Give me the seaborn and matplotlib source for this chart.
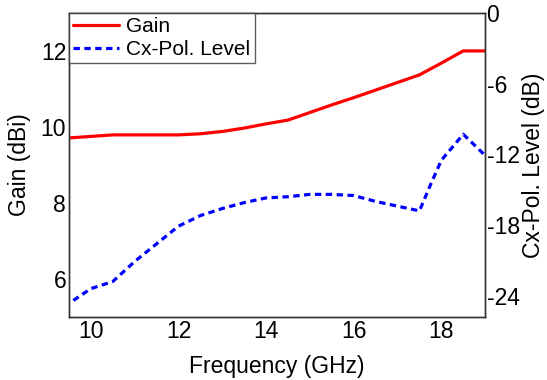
import matplotlib
matplotlib.use("Agg")
import matplotlib.pyplot as plt
import seaborn as sns
import pandas as pd

freq = [9.5, 10.0, 10.5, 11.0, 11.5, 12.0, 12.5, 13.0, 13.5, 14.0, 14.5, 15.0,
        15.5, 16.0, 16.5, 17.0, 17.5, 18.0, 18.5, 19.0]
gain = [9.71, 9.75, 9.79, 9.79, 9.79, 9.79, 9.82, 9.88, 9.97, 10.08, 10.18, 10.38,
        10.58, 10.77, 10.97, 11.17, 11.37, 11.68, 12.0, 12.0]

freq_x = [9.6, 10.0, 10.5, 11.0, 11.5, 12.0, 12.5, 13.0, 13.5, 14.0, 14.5, 15.0,
          15.5, 16.0, 16.5, 17.0, 17.5, 17.75, 18.0, 18.5, 19.0]
xpol = [-24.4, -23.4, -22.8, -21.1, -19.6, -18.1, -17.2, -16.6, -16.1, -15.7, -15.6,
        -15.4, -15.4, -15.5, -16.0, -16.4, -16.8, -14.6, -12.5, -10.3, -12.1]

x_ticks = [10, 12, 14, 16, 18]
gain_ticks = [6, 8, 10, 12]
xpol_ticks = [0, -6, -12, -18, -24]

sns.set_style("white")
plt.rcParams['font.family'] = ['Liberation Sans', 'DejaVu Sans']
plt.rcParams['axes.unicode_minus'] = False
plt.rcParams['text.color'] = 'black'
plt.rcParams['axes.labelcolor'] = 'black'
plt.rcParams['xtick.color'] = 'black'
plt.rcParams['ytick.color'] = 'black'

df_g = pd.DataFrame({"Frequency": freq, "Gain": gain})
df_x = pd.DataFrame({"Frequency": freq_x, "XPol": xpol})

fig, ax = plt.subplots(figsize=(5.47, 3.80), dpi=100)
fig.subplots_adjust(left=0.126, right=0.887, top=0.966, bottom=0.166)
ax2 = ax.twinx()

sns.lineplot(data=df_g, x="Frequency", y="Gain", ax=ax, color="#ff0000",
             linewidth=2.3, label="Gain", legend=False)
sns.lineplot(data=df_x, x="Frequency", y="XPol", ax=ax2, color="#0000ff",
             linewidth=2.3, linestyle=(0, (2.0, 1.4)), label="Cx-Pol. Level", legend=False)

ax.set_xlim(9.5, 19)
ax.set_ylim(5, 13)
ax2.set_ylim(-25.8, 0)
ax.set_xticks(x_ticks)
ax.set_yticks(gain_ticks)
ax2.set_yticks(xpol_ticks)

fs = 16.5
ax.set_xlabel("Frequency (GHz)", fontsize=fs, labelpad=9)
ax.set_ylabel("Gain (dBi)", fontsize=fs, labelpad=7)
ax2.set_ylabel("Cx-Pol. Level (dB)", fontsize=fs, labelpad=2)

for a in (ax, ax2):
    a.tick_params(axis="both", length=0, labelsize=fs, pad=2, colors="black")
    for s in a.spines.values():
        s.set_color("#333333")
        s.set_linewidth(1.0)
ax2.tick_params(axis="y", pad=1)

h1, l1 = ax.get_legend_handles_labels()
h2, l2 = ax2.get_legend_handles_labels()
leg = ax2.legend(h1 + h2, l1 + l2, loc="upper left", borderaxespad=0, fontsize=15,
                 frameon=True, fancybox=False, handlelength=2.2, handletextpad=0.35,
                 borderpad=0.2, labelspacing=0.2)
leg.get_frame().set_edgecolor("#333333")
leg.get_frame().set_linewidth(1.0)

fig.savefig("out.png", dpi=100)
